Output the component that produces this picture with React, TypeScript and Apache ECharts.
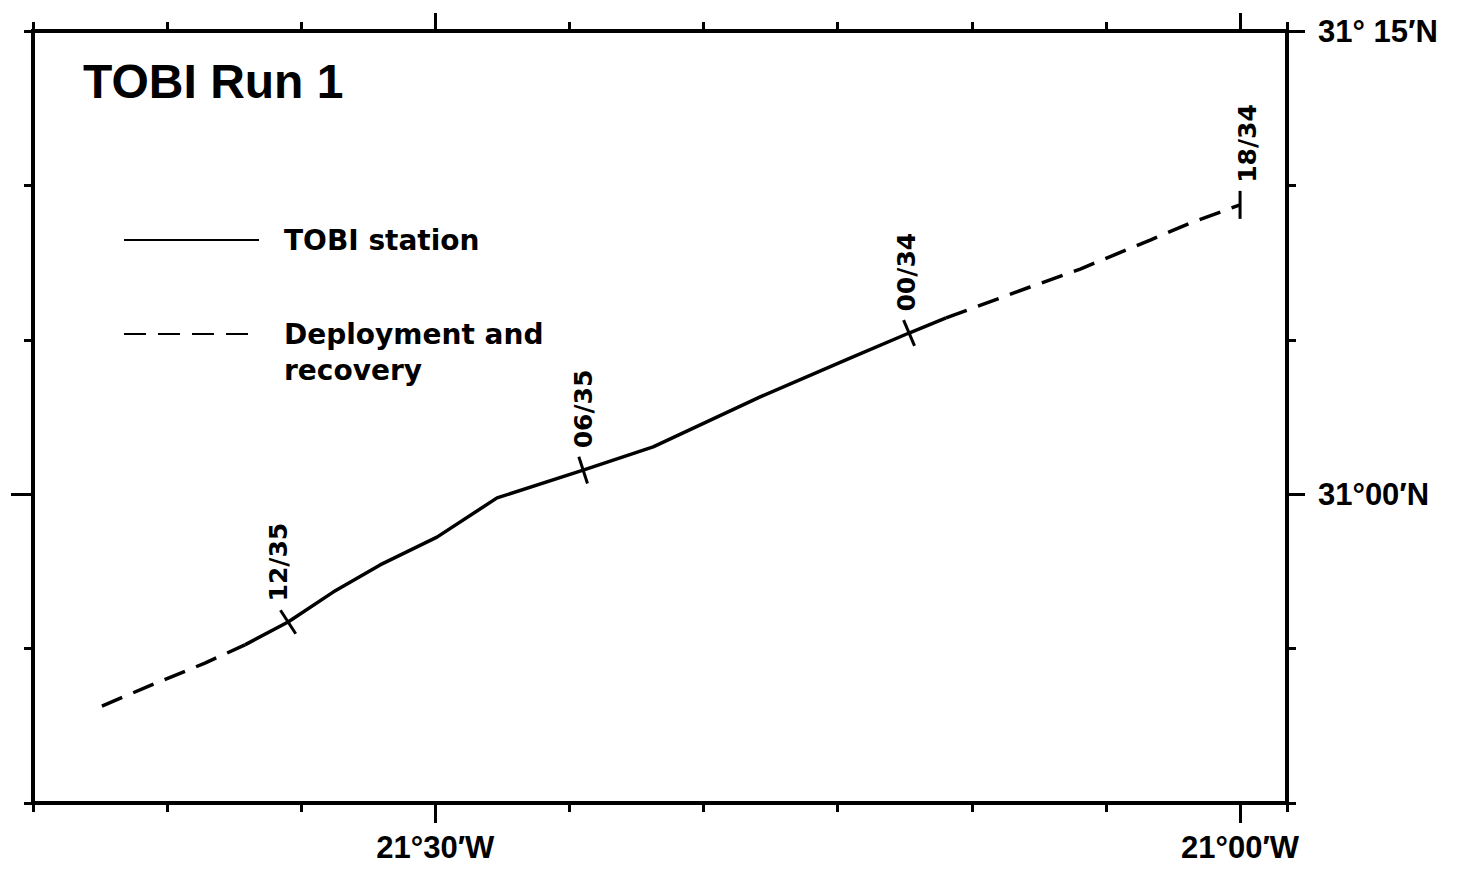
import React, { useEffect, useRef } from "react";
import * as echarts from "echarts";

// Longitude in minutes relative to 21°00'W (negative = further west), latitude in minutes relative to 31°00'N
const deploymentTrack: number[][] = [
  [-42.43, -6.86],
  [-40.75, -6.24],
  [-38.59, -5.47],
  [-37.1, -4.88],
];
const stationTrack: number[][] = [
  [-37.1, -4.88],
  [-35.49, -4.14],
  [-33.81, -3.17],
  [-32.06, -2.29],
  [-29.94, -1.39],
  [-27.7, -0.12],
  [-24.49, 0.78],
  [-21.88, 1.53],
  [-17.89, 3.15],
  [-14.54, 4.41],
  [-12.34, 5.22],
  [-10.96, 5.71],
];
const recoveryTrack: number[][] = [
  [-10.96, 5.71],
  [-7.83, 6.71],
  [-5.96, 7.29],
  [-3.35, 8.23],
  [-1.86, 8.78],
  [0.0, 9.37],
];
const stationTimes = ["12/35", "06/35", "00/34", "18/34"];
const stationLon = [-35.49, -24.49, -12.34, 0.0];
const stationLat = [-4.14, 0.78, 5.22, 9.37];

const lonMin = -45;
const lonMax = 1.75;
const latMin = -10;
const latMax = 15;
const lonLabelValues = [-30, 0];
const lonLabels = ["21°30′W", "21°00′W"];
const latLabelValues = [0, 15];
const latLabels = ["31°00′N", "31° 15′N"];

const titleText = "TOBI Run 1";
const legendStation = "TOBI station";
const legendDeploy = "Deployment and\nrecovery";

// marker styling (orientation perpendicular to the track, small horizontal label nudges)
const markerAngles = [33, 18, 23, 0];
const labelShift = [-10, 0, -3, 7];

const INK = "#000";
const LABEL_FONT = "'Liberation Sans', Arial, Helvetica, sans-serif";
const TEXT_FONT = "'DejaVu Sans', sans-serif";

export default function App() {
  const ref = useRef<HTMLDivElement>(null);

  useEffect(() => {
    if (!ref.current) return;
    const chart = echarts.init(ref.current, undefined, { renderer: "svg" });

    const frameLine = {
      show: true,
      onZero: false,
      lineStyle: { color: INK, width: 4, cap: "square" },
    };
    const shortTick = (len: number) => ({
      show: true,
      inside: false,
      length: len,
      lineStyle: { color: INK, width: 3 },
    });

    const lonBase = {
      type: "value",
      min: lonMin,
      max: lonMax,
      interval: 5,
      splitLine: { show: false },
    };
    const latBase = {
      type: "value",
      min: latMin,
      max: latMax,
      interval: 5,
      splitLine: { show: false },
    };

    // label is rotated 90°, so its local y offset moves it horizontally on screen
    const markerData = stationTimes.map((t, i) => ({
      name: t,
      value: [stationLon[i], stationLat[i]],
      symbolRotate: markerAngles[i],
      label: { offset: [0, labelShift[i]] },
    }));

    const legendText = {
      fontFamily: TEXT_FONT,
      fontWeight: "bold",
      fontSize: 28,
      lineHeight: 36,
      color: INK,
      padding: [0, 0, 0, 20],
    };
    const hiddenSymbol = {
      color: "rgba(0,0,0,0)",
      borderColor: "rgba(0,0,0,0)",
      borderWidth: 0,
    };

    chart.setOption({
      animation: false,
      backgroundColor: "#fff",
      title: {
        text: titleText,
        left: 83,
        top: 57,
        padding: 0,
        textStyle: {
          fontFamily: LABEL_FONT,
          fontWeight: "bold",
          fontSize: 48,
          color: INK,
        },
      },
      legend: [
        {
          data: [{ name: legendStation }],
          left: 123,
          top: 222,
          padding: 0,
          orient: "vertical",
          itemWidth: 135,
          itemHeight: 20,
          selectedMode: false,
          itemStyle: hiddenSymbol,
          textStyle: legendText,
        },
        {
          data: [{ name: legendDeploy }],
          left: 123,
          top: 280,
          padding: 0,
          orient: "vertical",
          itemWidth: 135,
          itemHeight: 20,
          selectedMode: false,
          itemStyle: hiddenSymbol,
          formatter: (name: string) => "\n" + name,
          textStyle: legendText,
        },
      ],
      grid: { left: 33, right: 172, top: 31, bottom: 72, containLabel: false },
      xAxis: [
        {
          ...lonBase,
          position: "bottom",
          axisLine: frameLine,
          axisTick: shortTick(9),
          axisLabel: { show: false },
        },
        {
          ...lonBase,
          position: "bottom",
          axisLine: { show: false, onZero: false },
          axisTick: { ...shortTick(20), customValues: lonLabelValues },
          axisLabel: {
            show: true,
            customValues: lonLabelValues,
            margin: 29,
            fontFamily: LABEL_FONT,
            fontWeight: "bold",
            fontSize: 31,
            color: INK,
            formatter: (v: number) => lonLabels[lonLabelValues.indexOf(v)] ?? "",
          },
        },
        {
          ...lonBase,
          position: "top",
          axisLine: frameLine,
          axisTick: shortTick(9),
          axisLabel: { show: false },
        },
        {
          ...lonBase,
          position: "top",
          axisLine: { show: false, onZero: false },
          axisTick: { ...shortTick(18), customValues: lonLabelValues },
          axisLabel: { show: false },
        },
      ],
      yAxis: [
        {
          ...latBase,
          position: "left",
          axisLine: frameLine,
          axisTick: shortTick(9),
          axisLabel: { show: false },
        },
        {
          ...latBase,
          position: "left",
          axisLine: { show: false, onZero: false },
          axisTick: { ...shortTick(22), customValues: [0] },
          axisLabel: { show: false },
        },
        {
          ...latBase,
          position: "right",
          axisLine: frameLine,
          axisTick: shortTick(9),
          axisLabel: { show: false },
        },
        {
          ...latBase,
          position: "right",
          axisLine: { show: false, onZero: false },
          axisTick: { ...shortTick(18), customValues: latLabelValues },
          axisLabel: {
            show: true,
            customValues: latLabelValues,
            margin: 31,
            fontFamily: LABEL_FONT,
            fontWeight: "bold",
            fontSize: 31,
            color: INK,
            formatter: (v: number) => latLabels[latLabelValues.indexOf(v)] ?? "",
          },
        },
      ],
      series: [
        {
          name: legendDeploy,
          type: "line",
          xAxisIndex: 0,
          yAxisIndex: 0,
          data: deploymentTrack,
          symbol: "none",
          itemStyle: { color: INK },
          lineStyle: { color: INK, width: 3.5, type: [22, 12] },
          silent: true,
        },
        {
          name: legendStation,
          type: "line",
          xAxisIndex: 0,
          yAxisIndex: 0,
          data: stationTrack,
          symbol: "none",
          itemStyle: { color: INK },
          lineStyle: { color: INK, width: 3.5, type: "solid" },
          silent: true,
        },
        {
          name: legendDeploy,
          type: "line",
          xAxisIndex: 0,
          yAxisIndex: 0,
          data: recoveryTrack,
          symbol: "none",
          itemStyle: { color: INK },
          lineStyle: { color: INK, width: 3.5, type: [22, 12] },
          silent: true,
        },
        {
          name: "markers",
          type: "scatter",
          xAxisIndex: 0,
          yAxisIndex: 0,
          data: markerData,
          symbol: "rect",
          symbolSize: [3, 28],
          itemStyle: { color: INK, opacity: 1 },
          z: 5,
          silent: true,
          label: {
            show: true,
            formatter: "{b}",
            position: "top",
            distance: 8,
            rotate: 90,
            align: "left",
            verticalAlign: "middle",
            fontFamily: TEXT_FONT,
            fontWeight: "bold",
            fontSize: 25,
            color: INK,
            opacity: 1,
          },
        },
      ],
    });

    return () => chart.dispose();
  }, []);

  return (
    <div
      ref={ref}
      style={{ position: "fixed", left: 0, top: 0, width: 1459, height: 875 }}
    />
  );
}
